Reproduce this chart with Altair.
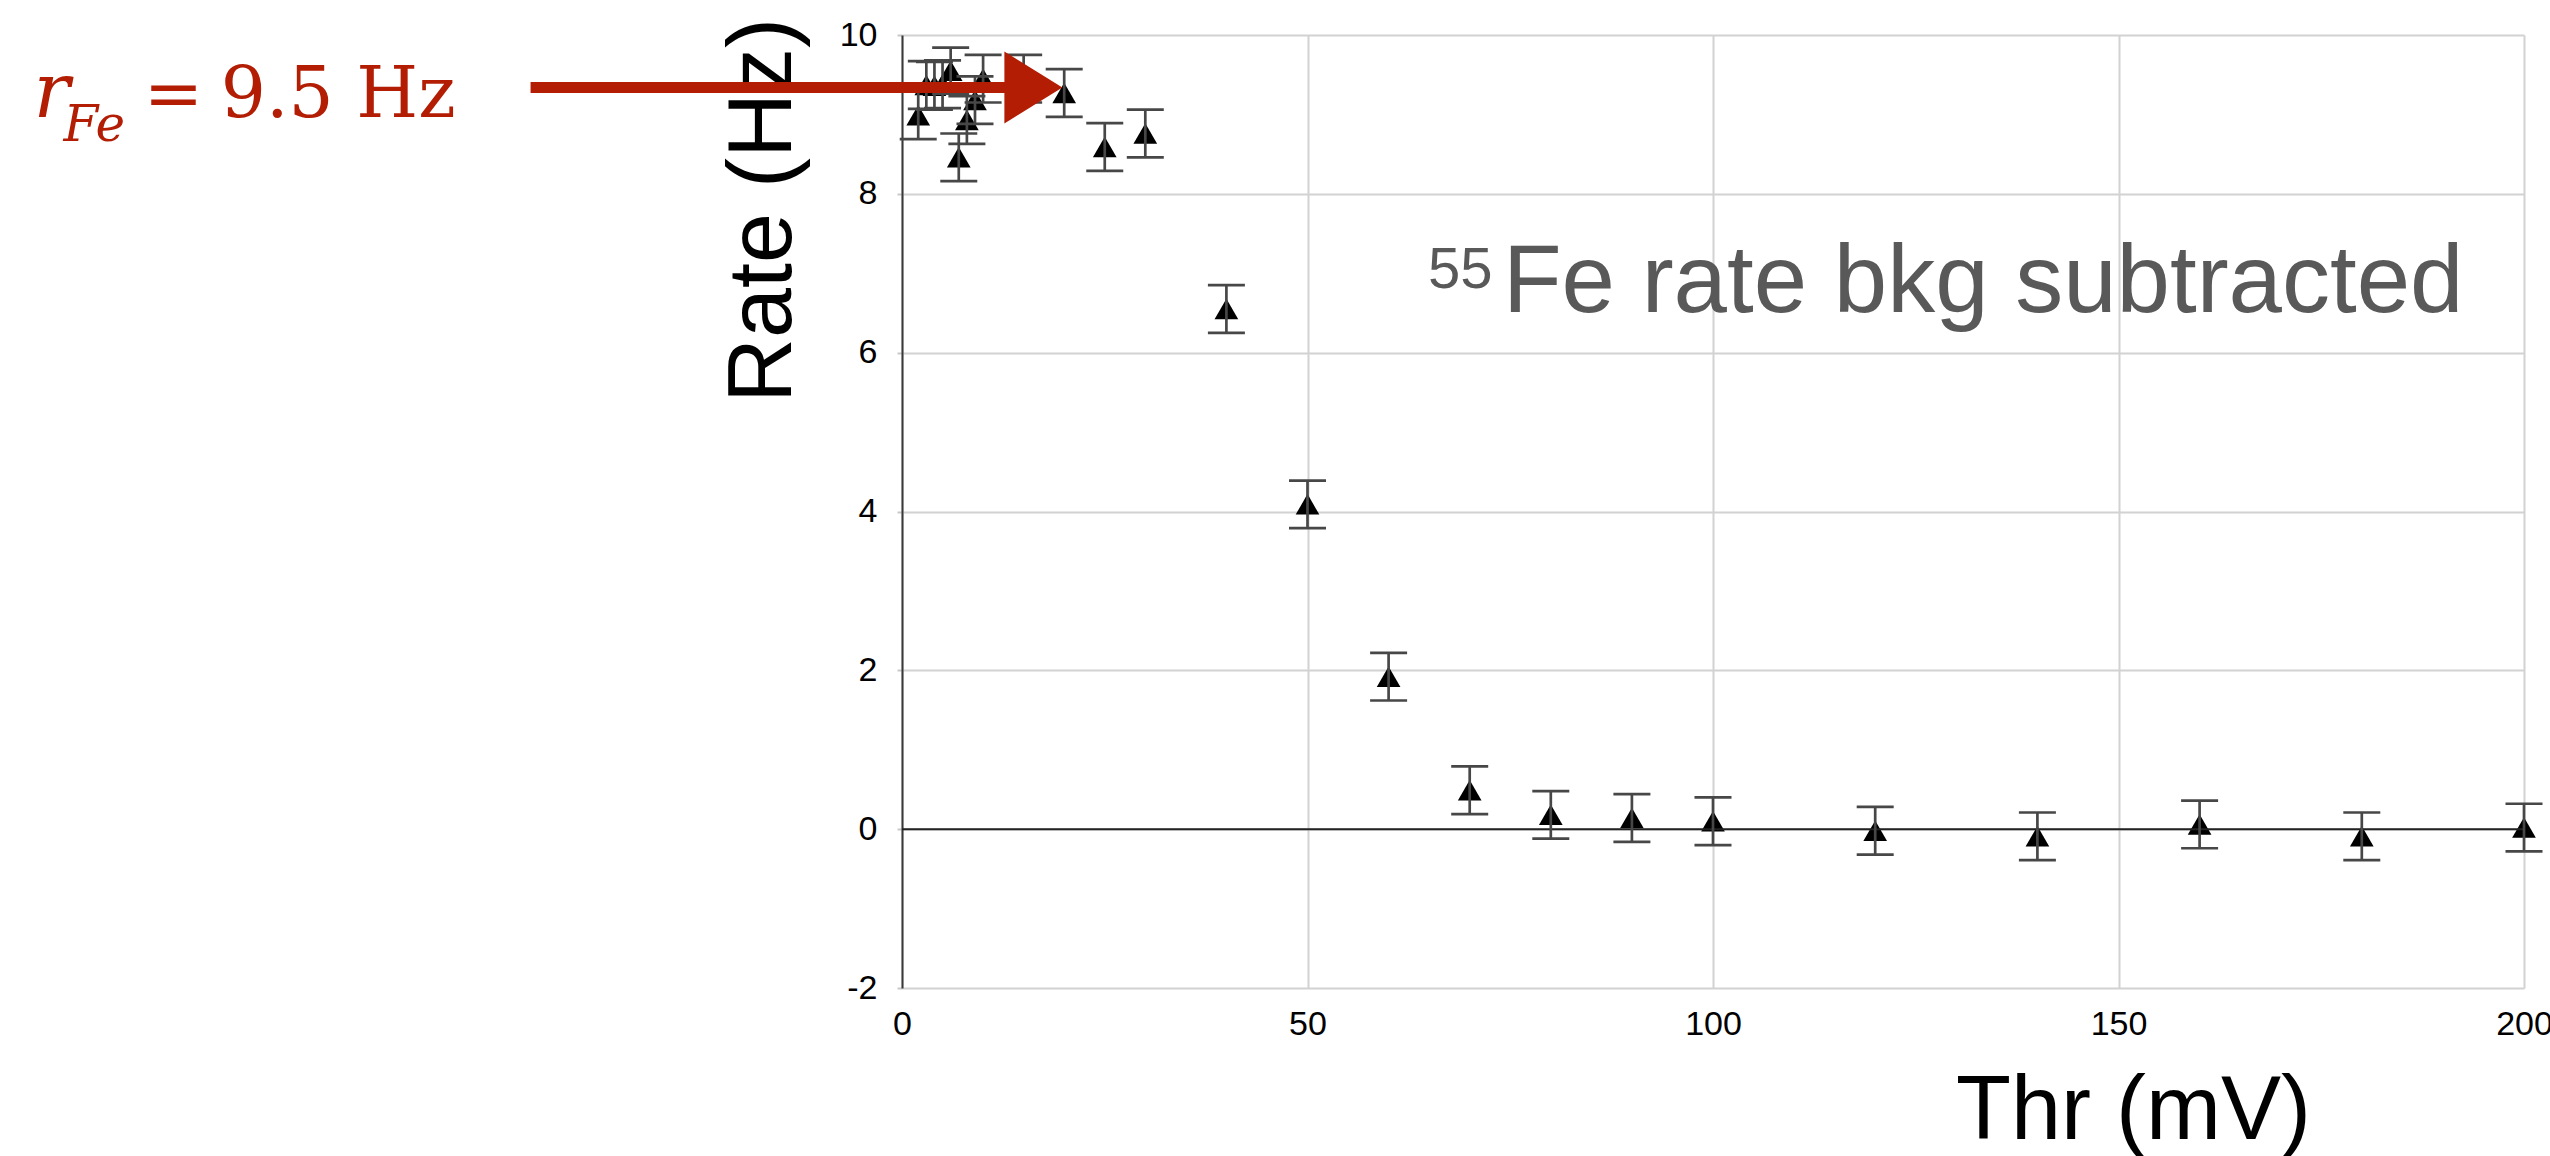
import altair as alt
import pandas as pd

# ---- data ----
thr = [2, 3, 4, 5, 6, 7, 8, 9, 10, 15, 20, 25, 30, 40, 50, 60,
       70, 80, 90, 100, 120, 140, 160, 180, 200]
rate = [8.99, 9.37, 9.36, 9.38, 9.55, 8.46, 8.93, 9.18, 9.45, 9.45, 9.27,
        8.59, 8.76, 6.55, 4.09, 1.92, 0.49, 0.18, 0.14, 0.10, -0.02,
        -0.09, 0.06, -0.09, 0.02]
err = [0.30, 0.30, 0.30, 0.30, 0.29, 0.30, 0.30, 0.30, 0.30, 0.30, 0.30,
       0.30, 0.30, 0.30, 0.30, 0.30, 0.30, 0.30, 0.30, 0.30, 0.30,
       0.30, 0.30, 0.30, 0.30]

x_ticks = [0, 50, 100, 150, 200]
y_ticks = [-2, 0, 2, 4, 6, 8, 10]

# annotation positions (data units)
gray_text = ["Fe rate bkg subtracted"]
gray_x = [74.1]
gray_y = [6.51]
sup_text = ["55"]
sup_x = [72.8]
sup_y = [6.81]

arrow_x0 = [-45.8]
arrow_x1 = [13.5]
arrow_y = [9.34]
arrowhead_x = [16.2]

red_main = ["=", "9.5 Hz"]
red_main_x = [-93.5, -84.0]
red_main_y = [8.97, 8.97]

RED = "#b21d04"
GRAY = "#595959"

df = pd.DataFrame({"thr": thr, "rate": rate, "err": err})
df["lo"] = df["rate"] - df["err"]
df["hi"] = df["rate"] + df["err"]

xs = alt.Scale(domain=[0, 200], nice=False, zero=False)
ys = alt.Scale(domain=[-2, 10], nice=False, zero=False)

x_axis = alt.Axis(
    values=x_ticks, title="Thr (mV)", domain=False, ticks=False, tickSize=0,
    grid=True, gridColor="#d2d2d2", gridWidth=2,
    labelFont="Liberation Sans", labelFontSize=34, labelColor="#000",
    labelPadding=19, labelFlush=False,
    titleFont="Liberation Sans", titleFontSize=90, titleFontWeight="normal",
    titleColor="#000", titleX=1231, titleY=150, titleAlign="center",
    titleBaseline="alphabetic", titleAngle=0,
)
y_axis = alt.Axis(
    values=y_ticks, title="Rate (Hz)", domain=True, domainColor="#3a3a3a",
    domainWidth=2, ticks=True, tickSize=5, tickColor="#c8c8c8", tickWidth=2,
    grid=True, gridColor="#d2d2d2", gridWidth=2,
    labelFont="Liberation Sans", labelFontSize=34, labelColor="#000",
    labelPadding=20, labelExpr="'' + datum.value",
    titleFont="Liberation Sans", titleFontSize=90, titleFontWeight="normal",
    titleColor="#000", titleAngle=270, titleX=-112, titleY=175,
    titleAlign="center", titleBaseline="alphabetic",
)


def X(field):
    return alt.X(field, scale=xs, axis=x_axis)


def Y(field):
    return alt.Y(field, scale=ys, axis=y_axis)


base = alt.Chart(df)

zero_line = alt.Chart(pd.DataFrame({"z": [0]})).mark_rule(
    color="#222222", strokeWidth=2
).encode(y=Y("z:Q"))

bars = base.mark_rule(color="#474747", strokeWidth=2.7).encode(
    x=X("thr:Q"), y=Y("lo:Q"), y2="hi:Q",
)
cap_lo = base.mark_tick(orient="horizontal", size=37, thickness=2.7,
                        color="#474747", opacity=1).encode(
    x=X("thr:Q"), y=Y("lo:Q"),
)
cap_hi = base.mark_tick(orient="horizontal", size=37, thickness=2.7,
                        color="#474747", opacity=1).encode(
    x=X("thr:Q"), y=Y("hi:Q"),
)
points = base.mark_point(shape="triangle-up", filled=True, size=560,
                         color="#000", opacity=1).encode(
    x=X("thr:Q"), y=Y("rate:Q"),
)

# gray label inside the plot
gray = alt.Chart(pd.DataFrame({"x": gray_x, "y": gray_y, "t": gray_text})).mark_text(
    font="Liberation Sans", fontSize=96, color=GRAY, align="left",
    baseline="alphabetic"
).encode(x=X("x:Q"), y=Y("y:Q"), text="t:N")
sup = alt.Chart(pd.DataFrame({"x": sup_x, "y": sup_y, "t": sup_text})).mark_text(
    font="Liberation Sans", fontSize=58, color=GRAY, align="right",
    baseline="alphabetic"
).encode(x=X("x:Q"), y=Y("y:Q"), text="t:N")

# red arrow
shaft = alt.Chart(pd.DataFrame({"x0": arrow_x0, "x1": arrow_x1, "y": arrow_y})).mark_rule(
    color=RED, strokeWidth=11
).encode(x=X("x0:Q"), x2="x1:Q", y=Y("y:Q"))
head = alt.Chart(pd.DataFrame({"x": arrowhead_x, "y": arrow_y})).mark_point(
    shape="M-1,-1.24L1,0L-1,1.24Z", filled=True, size=3364, color=RED, opacity=1
).encode(x=X("x:Q"), y=Y("y:Q"))

# red formula r_Fe = 9.5 Hz
r_sym = alt.Chart(pd.DataFrame({"x": [-107.1], "y": [8.97], "t": ["r"]})).mark_text(
    font="DejaVu Serif", fontStyle="italic", fontSize=76, color=RED,
    align="left", baseline="alphabetic"
).encode(x=X("x:Q"), y=Y("y:Q"), text="t:N")
fe_sub = alt.Chart(pd.DataFrame({"x": [-103.4], "y": [8.67], "t": ["Fe"]})).mark_text(
    font="DejaVu Serif", fontStyle="italic", fontSize=50, color=RED,
    align="left", baseline="alphabetic"
).encode(x=X("x:Q"), y=Y("y:Q"), text="t:N")
eq_df = pd.DataFrame({"x": red_main_x, "y": red_main_y, "t": red_main})
eq = alt.Chart(eq_df).mark_text(
    font="DejaVu Serif", fontSize=71, color=RED, align="left",
    baseline="alphabetic"
).encode(x=X("x:Q"), y=Y("y:Q"), text="t:N")

chart = alt.layer(
    points, zero_line, bars, cap_lo, cap_hi, gray, sup, shaft, head,
    r_sym, fe_sub, eq
).properties(
    width=1622, height=953,
    autosize=alt.AutoSizeParams(type="none"),
    padding={"left": 902, "top": 35, "right": 26, "bottom": 168},
    background="white",
).configure_view(stroke=None)

chart.save("out.html", embed_options={"renderer": "svg", "actions": False})
